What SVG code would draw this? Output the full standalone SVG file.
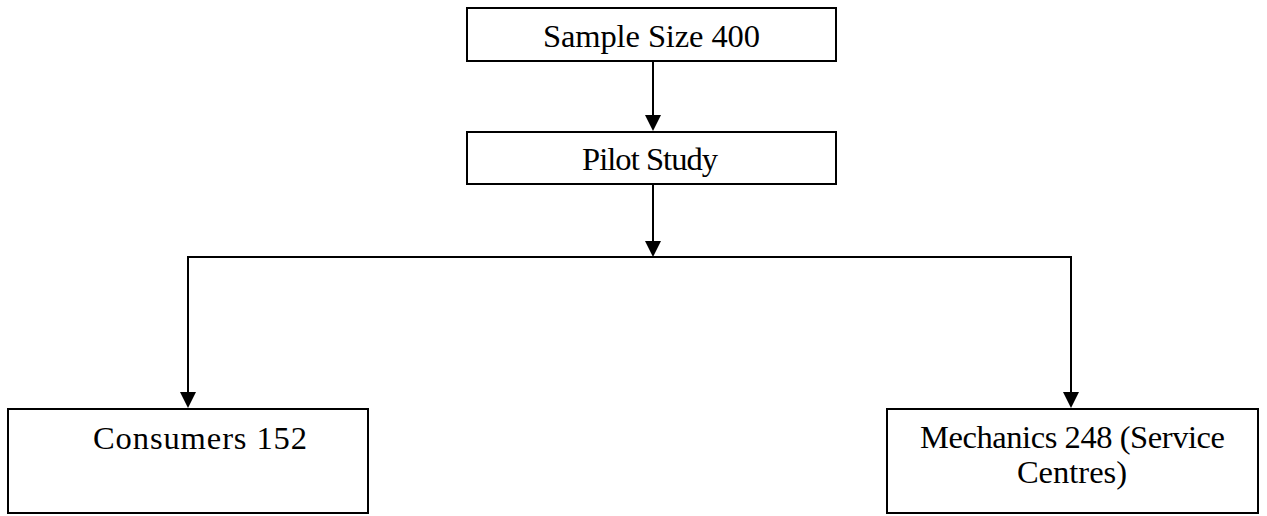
<svg xmlns="http://www.w3.org/2000/svg" width="1267" height="516" viewBox="0 0 1267 516">
  <style>
    .box { fill: #ffffff; stroke: #000000; stroke-width: 2; }
    .wire { fill: none; stroke: #000000; stroke-width: 2; }
    .head { fill: #000000; }
    .lbl { font-family: "Liberation Serif", "Times New Roman", serif; font-size: 32.5px; fill: #000000; }
  </style>
  <rect width="1267" height="516" fill="#ffffff"/>

  <g id="connectors">
    <line class="wire" x1="653" y1="61" x2="653" y2="116"/>
    <path class="head" d="M645,115 L661,115 L653,131 Z"/>
    <line class="wire" x1="653" y1="184" x2="653" y2="242"/>
    <path class="head" d="M645,241 L661,241 L653,257 Z"/>
    <polyline class="wire" points="188,393 188,257 1071,257 1071,393"/>
    <path class="head" d="M180,392 L196,392 L188,408 Z"/>
    <path class="head" d="M1063,392 L1079,392 L1071,408 Z"/>
  </g>

  <g id="node-sample">
    <rect class="box" x="467" y="8" width="369" height="53"/>
    <text class="lbl" x="543" y="47" textLength="217">Sample Size 400</text>
  </g>

  <g id="node-pilot">
    <rect class="box" x="467" y="132" width="369" height="52"/>
    <text class="lbl" x="582" y="170" textLength="136">Pilot Study</text>
  </g>

  <g id="node-consumers">
    <rect class="box" x="8" y="409" width="360" height="104"/>
    <text class="lbl" x="93" y="449" textLength="214">Consumers 152</text>
  </g>

  <g id="node-mechanics">
    <rect class="box" x="887" y="409" width="371" height="104"/>
    <text class="lbl" x="920" y="448" textLength="305">Mechanics 248 (Service</text>
    <text class="lbl" x="1072" y="483" text-anchor="middle">Centres)</text>
  </g>
</svg>
